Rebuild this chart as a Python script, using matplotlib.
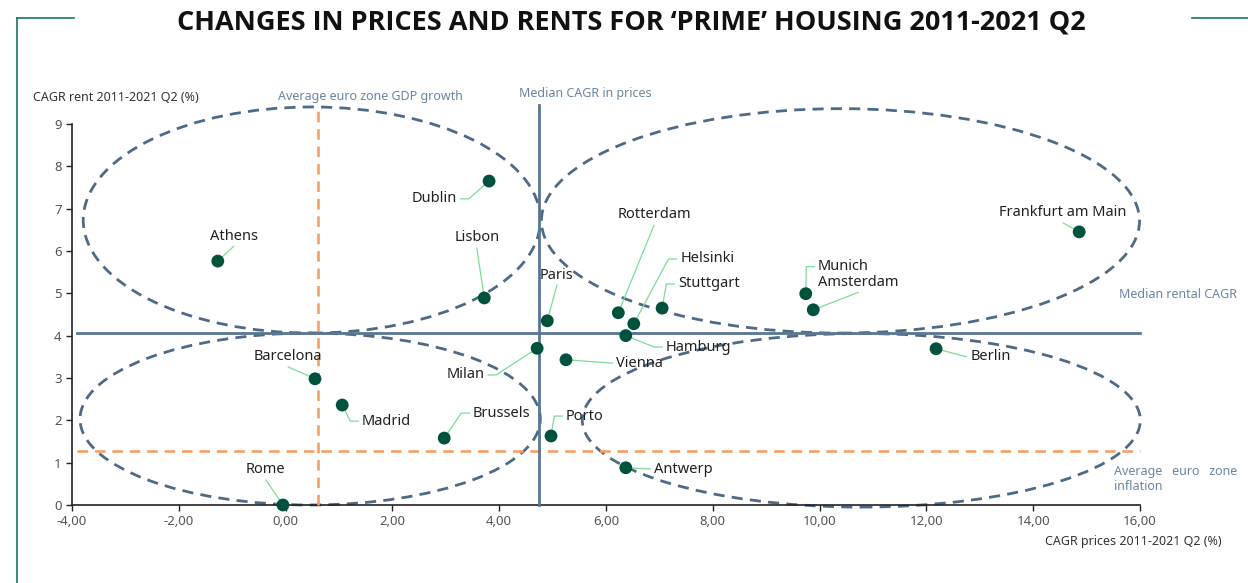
import numpy as np
import matplotlib
matplotlib.use("Agg")
import matplotlib.pyplot as plt
from matplotlib.patches import Ellipse
from matplotlib.lines import Line2D

plt.rcParams['font.family'] = ['Noto Sans', 'DejaVu Sans']

# -----------------------------
# Data: CAGR 2011-2021 Q2 (%)
# -----------------------------
cities = ["Athens", "Dublin", "Lisbon", "Paris", "Milan", "Vienna", "Rotterdam",
          "Helsinki", "Hamburg", "Stuttgart", "Munich", "Amsterdam",
          "Frankfurt am Main", "Berlin", "Barcelona", "Madrid", "Brussels",
          "Porto", "Antwerp", "Rome"]
prices = [-1.27, 3.81, 3.72, 4.90, 4.71, 5.25, 6.23,
          6.52, 6.37, 7.05, 9.74, 9.88,
          14.86, 12.18, 0.55, 1.06, 2.97,
          4.97, 6.37, -0.05]
rents = [5.76, 7.65, 4.89, 4.35, 3.70, 3.43, 4.54,
         4.28, 4.00, 4.65, 4.99, 4.61,
         6.45, 3.69, 2.98, 2.36, 1.58,
         1.63, 0.88, 0.00]

median_price = 4.75
median_rent = 4.07
gdp_growth = 0.61
inflation = 1.28

x_ticks = np.arange(-4, 17, 2)
y_ticks = np.arange(0, 10, 1)

# label layout: (x, y, ha, elbow leader)
label_pos = {
    "Athens": (-0.97, 6.35, "center", False),
    "Dublin": (3.21, 7.23, "right", True),
    "Lisbon": (3.58, 6.31, "center", False),
    "Paris": (5.08, 5.43, "center", False),
    "Milan": (3.72, 3.07, "right", True),
    "Vienna": (6.19, 3.35, "left", False),
    "Rotterdam": (6.90, 6.85, "center", False),
    "Helsinki": (7.39, 5.81, "left", True),
    "Hamburg": (7.12, 3.73, "left", True),
    "Stuttgart": (7.35, 5.22, "left", True),
    "Munich": (9.97, 5.63, "left", True),
    "Amsterdam": (10.72, 5.26, "center", False),
    "Frankfurt am Main": (14.56, 6.90, "center", False),
    "Berlin": (12.82, 3.50, "left", False),
    "Barcelona": (0.05, 3.50, "center", False),
    "Madrid": (1.43, 1.98, "left", True),
    "Brussels": (3.51, 2.17, "left", True),
    "Porto": (5.25, 2.10, "left", True),
    "Antwerp": (6.90, 0.85, "left", False),
    "Rome": (-0.37, 0.83, "center", False),
}

# dashed grouping ellipses: (cx, cy, width, height)
ellipses = [(0.49, 6.73, 8.56, 5.34),
            (10.39, 6.71, 11.2, 5.30),
            (0.46, 2.03, 8.62, 4.06),
            (10.78, 2.00, 10.45, 4.10)]

# -----------------------------
# Colours
# -----------------------------
c_point = "#00523d"
c_leader = "#7fdc98"
c_ell = "#4f6a87"
c_median = "#5a7692"
c_orange = "#f7a065"
c_note = "#6a86a2"
c_frame = "#1a7566"

fig = plt.figure(figsize=(12.48, 5.83), dpi=100)
ax = fig.add_axes([0.0577, 0.1338, 0.8558, 0.690])
ax.set_xlim(-4, 16)
ax.set_ylim(0, 9.5)

# ellipses
for cx, cy, w, h in ellipses:
    e = Ellipse((cx, cy), w, h, fill=False, edgecolor=c_ell, lw=2.0,
                linestyle=(0, (4, 2.6)), clip_on=False, zorder=2)
    ax.add_patch(e)

# reference lines
ax.plot([gdp_growth, gdp_growth], [0, 9.38], color=c_orange, lw=1.9,
        linestyle=(0, (4, 2.6)), zorder=3, clip_on=False)
ax.plot([-3.9, 16], [inflation, inflation], color=c_orange, lw=1.9,
        linestyle=(0, (4, 2.6)), zorder=3, clip_on=False)
ax.plot([median_price, median_price], [0, 9.45], color=c_median, lw=2.0,
        zorder=3, clip_on=False)
ax.plot([-3.9, 16], [median_rent, median_rent], color=c_median, lw=2.0,
        zorder=3, clip_on=False)

# leaders and labels
for name, px, py in zip(cities, prices, rents):
    tx, ty, ha, elbow = label_pos[name]
    if ha == "center":
        pts = [(tx, ty - 0.24), (px, py)]
    else:
        d = -1 if ha == "left" else 1
        edge = (tx + d * 0.07, ty)
        if elbow:
            pts = [edge, (tx + d * 0.22, ty), (px, py)]
        else:
            pts = [edge, (px, py)]
    xs, ys = zip(*pts)
    ax.plot(xs, ys, color=c_leader, lw=0.9, zorder=4, clip_on=False)
    ax.text(tx, ty, name, ha=ha, va="center", fontsize=10.5, color="#222222",
            zorder=6)

ax.scatter(prices, rents, s=85, color=c_point, zorder=5, clip_on=False,
           edgecolors="none")

# axes styling
for s in ["top", "right"]:
    ax.spines[s].set_visible(False)
ax.spines["left"].set_bounds(0, 9)
ax.spines["left"].set_color("#222222")
ax.spines["bottom"].set_color("#222222")
ax.spines["left"].set_linewidth(1.2)
ax.spines["bottom"].set_linewidth(1.2)
ax.set_xticks(x_ticks)
ax.set_xticklabels([f"{v:.2f}".replace(".", ",") for v in x_ticks])
ax.set_yticks(y_ticks)
ax.tick_params(axis="both", colors="#222222", labelcolor="#555555",
               labelsize=9.5, length=4, width=1)

# notes
ax.text(1.58, 9.64, "Average euro zone GDP growth", ha="center", va="center",
        fontsize=9, color=c_note, clip_on=False)
ax.text(4.37, 9.71, "Median CAGR in prices", ha="left", va="center",
        fontsize=9, color=c_note, clip_on=False)
ax.text(15.6, 4.98, "Median rental CAGR", ha="left", va="center",
        fontsize=9, color=c_note, clip_on=False)
ax.text(15.51, 0.80, "Average   euro   zone", ha="left", va="center",
        fontsize=9, color=c_note, clip_on=False)
ax.text(15.51, 0.43, "inflation", ha="left", va="center",
        fontsize=9, color=c_note, clip_on=False)

fig.text(0.0264, 0.8336, "CAGR rent 2011-2021 Q2 (%)", ha="left", va="center",
         fontsize=9, color="#333333")
fig.text(0.979, 0.072, "CAGR prices 2011-2021 Q2 (%)", ha="right", va="center",
         fontsize=9, color="#333333")

fig.text(0.506, 0.962, "CHANGES IN PRICES AND RENTS FOR \u2018PRIME\u2019 HOUSING 2011-2021 Q2",
         ha="center", va="center", fontsize=19.5, fontweight="bold", color="#111111",
         family=['Open Sans', 'DejaVu Sans'])

# decorative frame
fig.add_artist(Line2D([17 / 1248, 17 / 1248], [0, 1 - 18 / 583], color=c_frame, lw=1.2))
fig.add_artist(Line2D([17 / 1248, 74 / 1248], [1 - 18 / 583, 1 - 18 / 583], color=c_frame, lw=1.2))
fig.add_artist(Line2D([1192 / 1248, 1], [1 - 18 / 583, 1 - 18 / 583], color=c_frame, lw=1.2))

fig.savefig("out.png", dpi=100)
